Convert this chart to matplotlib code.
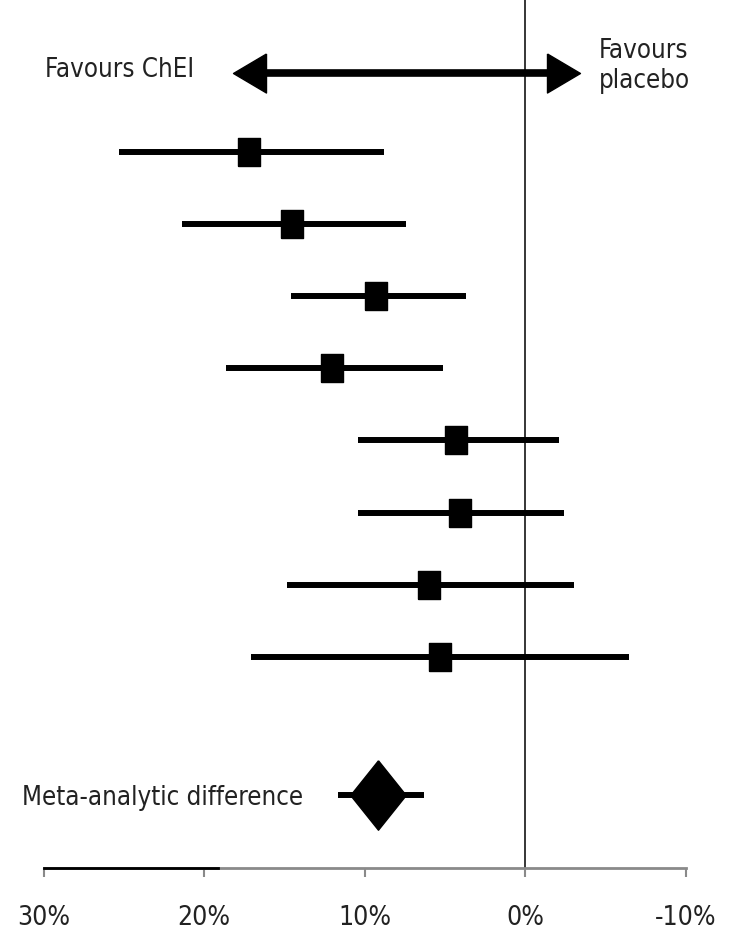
import numpy as np
import matplotlib
matplotlib.use('Agg')
import matplotlib.pyplot as plt
from matplotlib import font_manager

# difference vs placebo (%)
estimates = [17.2, 14.5, 9.3, 12.0, 4.3, 4.05, 6.0, 5.3]
ci_upper = [25.3, 21.4, 14.6, 18.6, 10.4, 10.4, 14.8, 17.1]
ci_lower = [8.8, 7.4, 3.7, 5.1, -2.1, -2.4, -3.05, -6.5]

meta_estimate = 9.16
meta_upper = 11.65
meta_lower = 6.3

tick_values = [30, 20, 10, 0, -10]
tick_labels = ['30%', '20%', '10%', '0%', '-10%']

# pick a narrow font if there is one, otherwise Lato
fonts = font_manager.fontManager.ttflist
narrow = [f for f in fonts if f.stretch in ('condensed', 'semi-condensed')
          or 'Narrow' in f.name or 'Condensed' in f.name]
if narrow:
    font, stretch = narrow[0].name, narrow[0].stretch
    text_size, tick_size = 18.5, 19
else:
    font, stretch = 'Lato', 'normal'
    text_size, tick_size = 17, 17.5
plt.rcParams['font.family'] = [font, 'DejaVu Sans']
plt.rcParams['font.stretch'] = stretch

fig = plt.figure(figsize=(7.35, 9.31), dpi=100)
ax = fig.add_axes([0.0592, 0.0677, 0.8735, 0.9323])

rows = np.arange(1, len(estimates) + 1)
meta_row = len(estimates) + 1.92

# zero line
ax.axvline(0, color='black', lw=1.1, zorder=1)

# study lines + boxes
box = [(-0.42, -0.5), (0.42, -0.5), (0.42, 0.5), (-0.42, 0.5), (-0.42, -0.5)]
for y, est, hi, lo in zip(rows, estimates, ci_upper, ci_lower):
    ax.plot([hi, lo], [y, y], color='black', lw=4.3, solid_capstyle='butt', zorder=2)
    ax.plot(est, y, marker=box, markersize=19.5, color='black', zorder=3)

# meta-analytic difference
diamond = [(0, 0.5), (0.4, 0), (0, -0.5), (-0.4, 0), (0, 0.5)]
ax.plot([meta_upper, meta_lower], [meta_row, meta_row], color='black', lw=4.3,
        solid_capstyle='butt', zorder=2)
ax.plot(meta_estimate, meta_row, marker=diamond, markersize=50, color='black', zorder=3)
ax.text(31.35, meta_row + 0.04, 'Meta-analytic difference', fontsize=text_size,
        va='center', ha='left', color='#222222')

# double-headed arrow at the top: shaft + two triangle heads
arrow_y = -0.1
ax.plot([16.2, -1.4], [arrow_y, arrow_y], color='black', lw=5.5, solid_capstyle='butt')
head_r = [(0, 1), (0, -1), (1.69, 0), (0, 1)]
head_l = [(0, 1), (0, -1), (-1.69, 0), (0, 1)]
ax.plot(-1.37, arrow_y, marker=head_r, markersize=47.5, color='black', lw=0)
ax.plot(16.14, arrow_y, marker=head_l, markersize=47.5, color='black', lw=0)

ax.text(29.9, -0.14, 'Favours ChEI', fontsize=text_size, va='center', ha='left',
        color='#222222')
ax.text(-4.6, -0.2, 'Favours\nplacebo', fontsize=text_size, va='center', ha='left',
        color='#222222', linespacing=1.2)

ax.set_xlim(30, -10)
ax.set_ylim(10.93, -1.11)

for side in ['top', 'left', 'right']:
    ax.spines[side].set_visible(False)
ax.spines['bottom'].set_color('#8a8a8a')
ax.spines['bottom'].set_linewidth(2)
# the left stretch of the axis line is drawn darker in the original
ax.plot([30, 19.13], [10.93, 10.93], color='black', lw=2, clip_on=False, zorder=4)

ax.set_yticks([])
ax.set_xticks(tick_values)
ax.set_xticklabels(tick_labels, fontsize=tick_size, color='#222222')
ax.tick_params(axis='x', direction='out', length=6.5, width=1.5, color='#8a8a8a', pad=20)

fig.savefig('out.png', dpi=100)
